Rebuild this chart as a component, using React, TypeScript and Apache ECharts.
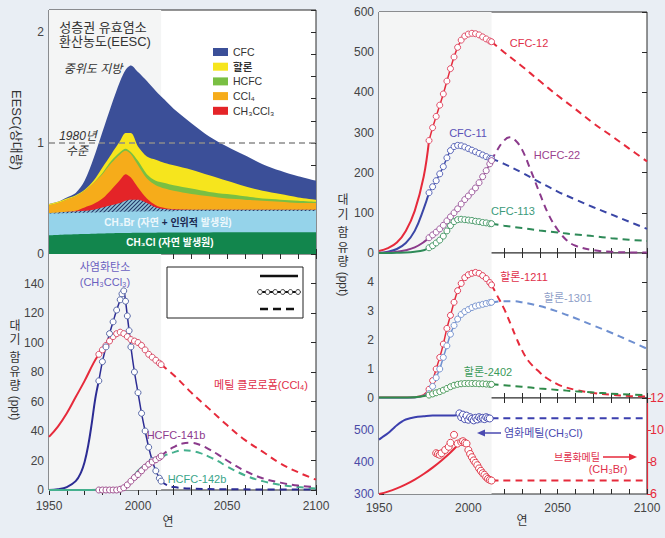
import { useEffect, useRef } from "react";
import * as echarts from "echarts";

type P = [number, number];

// ---------------- EESC panel (cumulative tops of each layer) ----------------
const EESC_YEARS = [1950, 1955, 1960, 1965, 1970, 1975, 1980, 1985, 1990, 1993, 1996, 2000, 2005, 2010, 2015, 2020, 2030, 2040, 2050, 2060, 2070, 2080, 2090, 2100];
const EESC_CFC = [0.45, 0.47, 0.51, 0.55, 0.66, 0.86, 1.10, 1.34, 1.56, 1.66, 1.70, 1.64, 1.56, 1.47, 1.39, 1.31, 1.18, 1.06, 0.97, 0.89, 0.81, 0.75, 0.70, 0.66];
const EESC_HALON = [0.45, 0.47, 0.50, 0.53, 0.58, 0.66, 0.78, 0.90, 1.02, 1.09, 1.09, 0.97, 0.88, 0.85, 0.82, 0.80, 0.76, 0.71, 0.66, 0.61, 0.57, 0.54, 0.51, 0.49];
const EESC_HCFC = [0.44, 0.46, 0.49, 0.52, 0.57, 0.64, 0.73, 0.84, 0.92, 0.95, 0.92, 0.84, 0.72, 0.66, 0.64, 0.62, 0.59, 0.56, 0.54, 0.52, 0.50, 0.49, 0.48, 0.47];
const EESC_CCL4 = [0.44, 0.46, 0.49, 0.52, 0.57, 0.64, 0.72, 0.82, 0.90, 0.93, 0.90, 0.80, 0.68, 0.62, 0.59, 0.57, 0.54, 0.52, 0.50, 0.49, 0.48, 0.47, 0.46, 0.46];
const EESC_CH3CCL3 = [0.37, 0.37, 0.38, 0.39, 0.42, 0.45, 0.50, 0.58, 0.67, 0.72, 0.69, 0.60, 0.50, 0.44, 0.415, 0.405, 0.40, 0.40, 0.40, 0.40, 0.40, 0.40, 0.40, 0.40];
const EESC_CH3BR_ANTH = [0.37, 0.375, 0.38, 0.385, 0.39, 0.40, 0.42, 0.44, 0.46, 0.48, 0.49, 0.49, 0.46, 0.42, 0.405, 0.40, 0.40, 0.40, 0.40, 0.40, 0.40, 0.40, 0.40, 0.40];
const EESC_CH3BR = [0.365, 0.366, 0.368, 0.37, 0.372, 0.374, 0.376, 0.378, 0.38, 0.381, 0.382, 0.383, 0.384, 0.385, 0.386, 0.386, 0.387, 0.387, 0.388, 0.388, 0.388, 0.388, 0.388, 0.388];
const EESC_CH3CL = [0.17, 0.172, 0.175, 0.178, 0.18, 0.183, 0.185, 0.187, 0.189, 0.19, 0.19, 0.191, 0.192, 0.192, 0.193, 0.193, 0.194, 0.194, 0.195, 0.195, 0.195, 0.195, 0.195, 0.195];
const EESC_1980_LEVEL = 1;
const EESC_LEGEND = ["CFC", "할론", "HCFC", "CCl₄", "CH₃CCl₃"];

// ---------------- bottom-left panel ----------------
const CCL4_SOLID: P[] = [[1950, 36], [1955, 43], [1960, 52], [1965, 63], [1970, 74], [1975, 86], [1978, 92]];
const CCL4_OBS: P[] = [[1978, 92], [1980, 95], [1982, 98], [1984, 101], [1986, 104], [1988, 106], [1990, 107], [1992, 106], [1994, 104], [1996, 102], [1998, 101], [2000, 100], [2002, 98], [2004, 95], [2006, 92], [2008, 90], [2010, 88], [2012, 86], [2013, 85]];
const CCL4_PROJ: P[] = [[2013, 85], [2020, 78], [2030, 66], [2040, 55], [2050, 44], [2060, 34], [2070, 26], [2080, 18], [2090, 12], [2100, 7]];
const MCF_SOLID: P[] = [[1950, 0], [1955, 0.5], [1960, 2], [1965, 6], [1968, 12], [1970, 19], [1972, 30], [1974, 45], [1976, 62], [1978, 74]];
const MCF_OBS: P[] = [[1978, 74], [1980, 87], [1982, 97], [1984, 106], [1986, 114], [1988, 122], [1990, 129], [1991, 133], [1992, 135], [1993, 128], [1994, 118], [1995, 108], [1996, 97], [1998, 80], [2000, 66], [2002, 52], [2004, 40], [2006, 29], [2008, 20], [2010, 13], [2012, 8], [2013, 6]];
const MCF_PROJ: P[] = [[2013, 6], [2016, 3.5], [2020, 2], [2030, 1], [2050, 0.5], [2100, 0.3]];
const HCFC141B_OBS: P[] = [[1978, 0], [1980, 0], [1982, 0], [1984, 0], [1986, 0], [1988, 0], [1990, 0.5], [1992, 1.5], [1994, 3.5], [1996, 6], [1998, 8.5], [2000, 10.5], [2002, 13], [2004, 15.5], [2006, 17.5], [2008, 19], [2010, 20.5], [2012, 22], [2013, 23]];
const HCFC141B_PROJ: P[] = [[2013, 23], [2016, 26], [2020, 29], [2025, 31.5], [2030, 32], [2035, 30.5], [2040, 27.5], [2045, 24], [2050, 20], [2060, 13], [2070, 8], [2080, 5], [2090, 3], [2100, 2]];
const HCFC142B_SOLID: P[] = [[1950, 0], [1960, 0], [1970, 0], [1980, 0.2], [1988, 0.5], [1990, 1], [1992, 2.5], [1994, 4.5], [1996, 7], [1998, 10], [2000, 13], [2004, 17], [2008, 20], [2013, 22]];
const HCFC142B_PROJ: P[] = [[2013, 22], [2016, 24], [2020, 25.5], [2025, 27], [2030, 26.5], [2035, 25], [2040, 22.5], [2045, 19.5], [2050, 16], [2060, 10], [2070, 6], [2080, 3.5], [2090, 2], [2100, 1]];

// ---------------- right-top panel ----------------
const CFC12_SOLID: P[] = [[1950, 5], [1955, 12], [1960, 26], [1965, 55], [1970, 105], [1975, 190], [1978, 280]];
const CFC12_OBS: P[] = [[1978, 280], [1980, 312], [1982, 340], [1984, 368], [1986, 396], [1988, 428], [1990, 459], [1992, 488], [1994, 512], [1996, 530], [1998, 540], [2000, 545], [2002, 547], [2004, 546], [2006, 543], [2008, 538], [2010, 533], [2012, 528], [2013, 526]];
const CFC12_PROJ: P[] = [[2013, 526], [2020, 500], [2030, 465], [2040, 428], [2050, 392], [2060, 358], [2070, 323], [2080, 292], [2090, 260], [2100, 228]];
const CFC11_SOLID: P[] = [[1950, 0], [1955, 3], [1960, 10], [1965, 25], [1970, 55], [1975, 110], [1978, 150]];
const CFC11_OBS: P[] = [[1978, 150], [1980, 165], [1982, 180], [1984, 197], [1986, 215], [1988, 237], [1990, 255], [1992, 265], [1994, 268], [1996, 267], [1998, 264], [2000, 260], [2002, 256], [2004, 252], [2006, 248], [2008, 244], [2010, 240], [2012, 236], [2013, 235]];
const CFC11_PROJ: P[] = [[2013, 235], [2020, 222], [2030, 200], [2040, 176], [2050, 153], [2060, 133], [2070, 114], [2080, 96], [2090, 78], [2100, 60]];
const HCFC22_SOLID: P[] = [[1950, 0], [1955, 1], [1960, 3], [1965, 7], [1970, 14], [1975, 27], [1978, 38]];
const HCFC22_OBS: P[] = [[1978, 38], [1980, 45], [1982, 52], [1984, 60], [1986, 69], [1988, 80], [1990, 90], [1992, 100], [1994, 110], [1996, 122], [1998, 133], [2000, 142], [2002, 152], [2004, 162], [2006, 175], [2008, 190], [2010, 205], [2012, 222], [2013, 230]];
const HCFC22_PROJ: P[] = [[2013, 230], [2016, 255], [2020, 280], [2023, 288], [2026, 282], [2030, 258], [2035, 205], [2040, 148], [2045, 95], [2050, 58], [2055, 32], [2060, 18], [2070, 7], [2080, 3], [2090, 1.5], [2100, 1]];
const CFC113_SOLID: P[] = [[1950, 0], [1960, 0.5], [1965, 1], [1970, 3], [1975, 7], [1978, 13]];
const CFC113_OBS: P[] = [[1978, 13], [1980, 18], [1982, 25], [1984, 32], [1986, 42], [1988, 55], [1990, 68], [1992, 78], [1994, 83], [1996, 84], [1998, 83], [2000, 82], [2002, 81], [2004, 79], [2006, 78], [2008, 76], [2010, 75], [2012, 73], [2013, 73]];
const CFC113_PROJ: P[] = [[2013, 73], [2020, 68], [2030, 62], [2040, 56], [2050, 51], [2060, 46], [2070, 42], [2080, 37], [2090, 33], [2100, 30]];

// ---------------- right-middle panel (halons) ----------------
const H1211_SOLID: P[] = [[1950, 0.02], [1960, 0.02], [1970, 0.03], [1975, 0.1], [1978, 0.3]];
const H1211_OBS: P[] = [[1978, 0.3], [1980, 0.6], [1982, 1.0], [1984, 1.4], [1986, 1.86], [1988, 2.4], [1990, 2.85], [1992, 3.3], [1994, 3.7], [1996, 3.95], [1998, 4.15], [2000, 4.25], [2002, 4.3], [2004, 4.33], [2006, 4.3], [2008, 4.22], [2010, 4.12], [2012, 3.98], [2013, 3.9]];
const H1211_PROJ: P[] = [[2013, 3.9], [2016, 3.55], [2020, 3.08], [2024, 2.5], [2027, 2.05], [2030, 1.65], [2034, 1.25], [2040, 0.88], [2044, 0.68], [2050, 0.47], [2055, 0.36], [2060, 0.28], [2070, 0.17], [2080, 0.11], [2090, 0.07], [2100, 0.05]];
const H1301_SOLID: P[] = [[1950, 0.01], [1970, 0.02], [1978, 0.15]];
const H1301_OBS: P[] = [[1978, 0.15], [1980, 0.4], [1982, 0.7], [1984, 1.0], [1986, 1.4], [1988, 1.8], [1990, 2.2], [1992, 2.5], [1994, 2.72], [1996, 2.88], [1998, 2.98], [2000, 3.05], [2002, 3.12], [2004, 3.17], [2006, 3.2], [2008, 3.23], [2010, 3.26], [2012, 3.29], [2013, 3.3]];
const H1301_PROJ: P[] = [[2013, 3.3], [2020, 3.34], [2025, 3.34], [2030, 3.3], [2040, 3.17], [2050, 2.98], [2060, 2.75], [2070, 2.5], [2080, 2.25], [2090, 1.98], [2100, 1.7]];
const H2402_SOLID: P[] = [[1950, 0.02], [1970, 0.03], [1978, 0.1]];
const H2402_OBS: P[] = [[1978, 0.1], [1980, 0.14], [1982, 0.18], [1984, 0.22], [1986, 0.27], [1988, 0.33], [1990, 0.39], [1992, 0.44], [1994, 0.47], [1996, 0.49], [1998, 0.5], [2000, 0.5], [2002, 0.5], [2004, 0.5], [2006, 0.49], [2008, 0.49], [2010, 0.48], [2012, 0.47], [2013, 0.47]];
const H2402_PROJ: P[] = [[2013, 0.47], [2020, 0.44], [2030, 0.39], [2040, 0.33], [2050, 0.28], [2060, 0.23], [2070, 0.19], [2080, 0.15], [2090, 0.12], [2100, 0.1]];

// ---------------- right-bottom panel ----------------
const CH3CL_SOLID: P[] = [[1950, 470], [1952, 478], [1955, 490], [1958, 505], [1960, 515], [1963, 527], [1965, 533], [1970, 540], [1975, 543], [1980, 545], [1990, 545], [1994, 546]];
const CH3CL_OBS: P[] = [[1995, 552], [1996, 540], [1997, 548], [1998, 534], [1999, 545], [2000, 532], [2001, 540], [2002, 535], [2003, 530], [2004, 538], [2005, 533], [2006, 540], [2007, 536], [2008, 538], [2009, 534], [2010, 540], [2011, 537], [2012, 536]];
const CH3CL_PROJ: P[] = [[2013, 537], [2098, 537]];
const CH3BR_SOLID: P[] = [[1950, 6.0], [1955, 6.15], [1960, 6.35], [1965, 6.6], [1970, 6.9], [1975, 7.25], [1980, 7.65], [1985, 8.1], [1990, 8.6], [1994, 9.05]];
const CH3BR_OBS: P[] = [[1982, 8.55], [1983, 8.5], [1984, 8.45], [1985, 8.55], [1987, 8.75], [1989, 8.95], [1990, 9.2], [1992, 9.7], [1994, 9.15], [1996, 9.25], [1997, 9.3], [1998, 9.2], [1999, 9.15], [2000, 8.75], [2001, 8.5], [2002, 8.3], [2003, 8.1], [2004, 7.95], [2005, 7.8], [2006, 7.6], [2007, 7.45], [2008, 7.3], [2009, 7.2], [2010, 7.05], [2011, 6.95], [2012, 6.88], [2013, 6.84]];
const CH3BR_PROJ: P[] = [[2013, 6.84], [2098, 6.84]];

const HIST_END = 2013;
const X_MIN = 1950;
const X_MAX = 2100;

const FONT = "'Liberation Sans', 'Noto Sans CJK KR', 'DejaVu Sans', sans-serif";
const RED = "#e62a3b";
const NAVY = "#3a46a6";

function gas(color: string, solid: P[] | null, obs: P[] | null, proj: P[] | null, xi: number, yi: number, opt: { circle?: string; connect?: boolean; size?: number } = {}) {
  const out: any[] = [];
  const common = { type: "line", xAxisIndex: xi, yAxisIndex: yi, silent: true, animation: false, emphasis: { disabled: true } };
  if (solid) out.push({ ...common, data: solid, smooth: 0.4, showSymbol: false, lineStyle: { color, width: 2 }, z: 3 });
  if (proj) out.push({ ...common, data: proj, smooth: 0.4, showSymbol: false, lineStyle: { color, width: 2, type: [7, 5] }, z: 3 });
  if (obs) {
    const connect = opt.connect !== false;
    out.push({
      ...common, data: obs, smooth: 0.3, symbol: "circle", symbolSize: opt.size || 6, showSymbol: true, showAllSymbol: true,
      itemStyle: { color: "#fff", borderColor: opt.circle || color, borderWidth: 1 },
      lineStyle: { color, width: connect ? 1.5 : 0, opacity: connect ? 1 : 0 }, z: 4,
    });
  }
  return out;
}

function buildOption(hatch: any) {
  const grids = [
    { left: 49, top: 10, width: 267, height: 244 },
    { left: 49, top: 254, width: 267, height: 236 },
    { left: 379, top: 12, width: 268, height: 241 },
    { left: 379, top: 253, width: 268, height: 145 },
    { left: 379, top: 398, width: 268, height: 96 },
  ].map((g) => ({ ...g, show: true, backgroundColor: "#fff", borderColor: "#2a2a2a", borderWidth: 1, outerBoundsMode: "none", containLabel: false }));

  const tick = { inside: true, length: 5, lineStyle: { color: "#2a2a2a", width: 1 } };
  const xAxis: any[] = [];
  grids.forEach((_, g) => {
    const showLab = g === 1 || g === 4;
    xAxis.push({
      gridIndex: g, type: "value", min: X_MIN, max: X_MAX, interval: 10, position: "bottom",
      axisLine: { show: false }, axisTick: tick, splitLine: { show: false },
      axisLabel: { show: showLab, formatter: (v: number) => (v % 50 === 0 ? String(v) : ""), color: "#444", fontSize: 12, fontFamily: FONT, margin: g === 1 ? 10 : 8, showMinLabel: true, showMaxLabel: true },
    });
    xAxis.push({
      gridIndex: g, type: "value", min: X_MIN, max: X_MAX, interval: 10, position: "top",
      axisLine: { show: false }, axisTick: tick, splitLine: { show: false }, axisLabel: { show: false },
    });
  });

  const yCfg = [
    { min: 0, max: 2.2, interval: 0.2, fmt: (v: number) => (Math.abs(v - Math.round(v)) < 1e-6 ? String(Math.round(v)) : "") },
    { min: 0, max: 160, interval: 20, fmt: (v: number) => (v >= 160 ? "" : String(v)) },
    { min: 0, max: 600, interval: 100, fmt: (v: number) => String(v) },
    { min: 0, max: 5, interval: 1, fmt: (v: number) => (v >= 5 ? "" : String(v)) },
    { min: 300, max: 600, interval: 100, fmt: (v: number) => (v >= 600 ? "" : String(v)) },
  ];
  const yAxis: any[] = [];
  yCfg.forEach((c, g) => {
    const labColor = g === 4 ? "#4a4aa6" : "#444";
    yAxis.push({
      gridIndex: g, type: "value", min: c.min, max: c.max, interval: c.interval, position: "left",
      axisLine: { show: g === 4, lineStyle: { color: "#4040a0" } }, axisTick: tick, splitLine: { show: false },
      axisLabel: { formatter: c.fmt, color: labColor, fontSize: 12, fontFamily: FONT, margin: 5, showMinLabel: true, showMaxLabel: true },
    });
    if (g === 4) {
      yAxis.push({
        gridIndex: g, type: "value", min: 6, max: 12, interval: 2, position: "right",
        axisLine: { show: true, lineStyle: { color: RED, width: 1.2 } }, axisTick: { inside: false, length: 4, lineStyle: { color: RED } }, splitLine: { show: false },
        axisLabel: { color: RED, fontSize: 12.5, fontFamily: FONT, margin: 3, showMinLabel: true, showMaxLabel: true },
      });
    } else {
      yAxis.push({
        gridIndex: g, type: "value", min: c.min, max: c.max, interval: c.interval, position: "right",
        axisLine: { show: false }, axisTick: tick, splitLine: { show: false }, axisLabel: { show: false },
      });
    }
  });

  const series: any[] = [];
  // historical shading
  grids.forEach((_, g) => {
    series.push({
      type: "line", xAxisIndex: 2 * g, yAxisIndex: 2 * g, data: [], z: 1, silent: true,
      markArea: { silent: true, itemStyle: { color: "#f4f5f5" }, data: [[{ xAxis: X_MIN }, { xAxis: HIST_END }]] },
    });
  });

  // EESC areas
  const layers: [number[], any][] = [
    [EESC_CFC, "#3b4f98"],
    [EESC_HALON, "#f6e51d"],
    [EESC_HCFC, "#79bf43"],
    [EESC_CCL4, "#f6ac1a"],
    [EESC_CH3CCL3, "#e42428"],
    [EESC_CH3BR_ANTH, hatch],
    [EESC_CH3BR, "#95d3ea"],
    [EESC_CH3CL, "#12864d"],
  ];
  layers.forEach(([arr, color]) => {
    series.push({
      type: "line", xAxisIndex: 0, yAxisIndex: 0, silent: true, smooth: 0.3, showSymbol: false,
      data: EESC_YEARS.map((y, i) => [y, arr[i]]), lineStyle: { width: 0 }, areaStyle: { color, opacity: 1 }, z: 2,
    });
  });
  series.push({
    type: "line", xAxisIndex: 0, yAxisIndex: 0, silent: true, showSymbol: false, z: 6,
    data: [[X_MIN, EESC_1980_LEVEL], [X_MAX, EESC_1980_LEVEL]], lineStyle: { color: "#8c8c8c", width: 1.5, type: [6, 4] },
  });

  // bottom-left
  series.push(...gas(RED, CCL4_SOLID, CCL4_OBS, CCL4_PROJ, 2, 2, { circle: "#d9506a" }));
  series.push(...gas("#2c2c94", MCF_SOLID, MCF_OBS, MCF_PROJ, 2, 2, { circle: "#5a6aa8" }));
  series.push(...gas("#45b08e", HCFC142B_SOLID, null, HCFC142B_PROJ, 2, 2));
  series.push(...gas("#8b3a8b", null, HCFC141B_OBS, HCFC141B_PROJ, 2, 2, { circle: "#a0508f" }));

  // right-top
  series.push(...gas(RED, CFC12_SOLID, CFC12_OBS, CFC12_PROJ, 4, 4, { circle: "#e0506a" }));
  series.push(...gas(NAVY, CFC11_SOLID, CFC11_OBS, CFC11_PROJ, 4, 4, { circle: "#5a66b8" }));
  series.push(...gas("#8b3a8b", HCFC22_SOLID, HCFC22_OBS, HCFC22_PROJ, 4, 4, { circle: "#a060a0" }));
  series.push(...gas("#2e8a58", CFC113_SOLID, CFC113_OBS, CFC113_PROJ, 4, 4, { circle: "#4a9a6a" }));

  // right-middle
  series.push(...gas(RED, H1211_SOLID, H1211_OBS, H1211_PROJ, 6, 6, { circle: "#e0405a" }));
  series.push(...gas("#6e8fd0", H1301_SOLID, H1301_OBS, H1301_PROJ, 6, 6, { circle: "#7a96d0" }));
  series.push(...gas("#2f8a4a", H2402_SOLID, H2402_OBS, H2402_PROJ, 6, 6, { circle: "#4a9a5a" }));

  // right-bottom
  series.push(...gas("#3b3fae", CH3CL_SOLID, CH3CL_OBS, CH3CL_PROJ, 8, 8, { connect: false, size: 7, circle: "#4a50b0" }));
  series.push(...gas(RED, CH3BR_SOLID, CH3BR_OBS, CH3BR_PROJ, 8, 9, { connect: false, size: 7, circle: "#e04050" }));

  const txt = (text: string, x: number, y: number, fill: string, fontSize = 11, extra: any = {}) => ({
    type: "text", x, y, z: 100, silent: true,
    style: { text, fill, fontSize, fontFamily: FONT, align: "center", verticalAlign: "middle", ...extra },
  });

  const graphic: any[] = [];
  // top-left titles
  graphic.push(txt("성층권 유효염소", 103, 27, "#333", 13));
  graphic.push(txt("환산농도(EESC)", 105, 41, "#333", 13));
  graphic.push(txt("중위도 지방", 93, 69, "#333", 12, { fontStyle: "italic" }));
  graphic.push(txt("1980년", 78, 136, "#333", 12, { fontStyle: "italic" }));
  graphic.push(txt("수준", 77, 151, "#333", 12, { fontStyle: "italic" }));
  graphic.push({ type: "text", x: 16, y: 130, rotation: -Math.PI / 2, z: 100, silent: true, style: { text: "EESC(상대량)", fill: "#333", fontSize: 13, fontFamily: FONT, align: "center", verticalAlign: "middle" } });
  // EESC legend
  const legColors = ["#3b4f98", "#f6e51d", "#79bf43", "#f6ac1a", "#e42428"];
  EESC_LEGEND.forEach((name, i) => {
    const y = 52 + i * 14.7;
    graphic.push({ type: "rect", z: 100, silent: true, shape: { x: 213, y: y - 4, width: 15, height: 8 }, style: { fill: legColors[i] } });
    graphic.push(txt(name, 233, y, "#333", 10.5, { align: "left", fontWeight: i === 1 ? "bold" : "normal" }));
  });
  // inner labels
  graphic.push({
    type: "text", x: 168, y: 222, z: 100, silent: true,
    style: {
      text: "{w|CH₃Br (자연 }{d|+ 인위적 }{w|발생원)}", align: "center", verticalAlign: "middle", fontFamily: FONT,
      rich: { w: { fill: "#eef8fc", color: "#eef8fc", fontSize: 10, fontWeight: "bold", fontFamily: FONT }, d: { fill: "#1b2850", color: "#1b2850", fontSize: 10, fontWeight: "bold", fontFamily: FONT } },
    },
  });
  graphic.push(txt("CH₃Cl (자연 발생원)", 170, 242, "#ffffff", 10, { fontWeight: "bold" }));

  // bottom-left labels
  graphic.push(txt("사염화탄소", 105, 267, "#6a5fc0", 11));
  graphic.push(txt("(CH₃CCl₃)", 105, 282, "#6a5fc0", 11));
  graphic.push(txt("메틸 클로로폼(CCl₄)", 261, 385, "#e0304a", 11));
  graphic.push(txt("HCFC-141b", 176, 435, "#8e3a8e", 11));
  graphic.push(txt("HCFC-142b", 197, 479, "#3aa58a", 11));
  // bottom-left legend box
  graphic.push({ type: "rect", z: 90, silent: true, shape: { x: 167, y: 267, width: 136, height: 51 }, style: { fill: "#fff", stroke: "#222", lineWidth: 1 } });
  graphic.push({ type: "line", z: 91, silent: true, shape: { x1: 260, y1: 276, x2: 298, y2: 276 }, style: { stroke: "#111", lineWidth: 2.5 } });
  graphic.push({ type: "line", z: 91, silent: true, shape: { x1: 260, y1: 292, x2: 298, y2: 292 }, style: { stroke: "#111", lineWidth: 2 } });
  for (let i = 0; i < 6; i++) {
    graphic.push({ type: "circle", z: 92, silent: true, shape: { cx: 260 + i * 7.6, cy: 292, r: 2.4 }, style: { fill: "#fff", stroke: "#333", lineWidth: 1 } });
  }
  graphic.push({ type: "line", z: 91, silent: true, shape: { x1: 260, y1: 309, x2: 298, y2: 309 }, style: { stroke: "#111", lineWidth: 2.5, lineDash: [8, 5] } });
  // y names
  const vName = (x: number, ys: number[], chars: string[], pptY: number) => {
    chars.forEach((c, i) => graphic.push(txt(c, x, ys[i], "#333", 12)));
    graphic.push({ type: "text", x, y: pptY, rotation: -Math.PI / 2, z: 100, silent: true, style: { text: "(ppt)", fill: "#333", fontSize: 12, fontFamily: FONT, align: "center", verticalAlign: "middle" } });
  };
  vName(15, [326, 340, 358, 372, 386], ["대", "기", "함", "유", "량"], 408);
  vName(343, [200, 215, 233, 248, 262], ["대", "기", "함", "유", "량"], 284);
  graphic.push(txt("연", 168, 522, "#333", 12));
  graphic.push(txt("연", 522, 521, "#333", 12));

  // right-top labels
  graphic.push(txt("CFC-12", 529, 43, "#e0304a", 11));
  graphic.push(txt("CFC-11", 468, 133, "#5b52b8", 11));
  graphic.push(txt("HCFC-22", 557, 155, "#9b3f8e", 11));
  graphic.push(txt("CFC-113", 513, 211, "#3b9a7a", 11));
  // right-middle labels
  graphic.push(txt("할론-1211", 524, 277, "#e0304a", 11));
  graphic.push(txt("할론-1301", 568, 298, "#8fa0c8", 11));
  graphic.push(txt("할론-2402", 488, 372, "#3b9a5a", 11));
  // right-bottom labels
  graphic.push({ type: "line", z: 100, silent: true, shape: { x1: 483, y1: 433, x2: 501, y2: 433 }, style: { stroke: "#4a4ab0", lineWidth: 1.5 } });
  graphic.push({ type: "polygon", z: 100, silent: true, shape: { points: [[477, 433], [485, 429.5], [485, 436.5]] }, style: { fill: "#4a4ab0" } });
  graphic.push(txt("염화메틸(CH₃Cl)", 504, 433, "#4a4ab0", 11, { align: "left" }));
  graphic.push(txt("브롬화메틸", 577, 457, "#e0304a", 10));
  graphic.push({ type: "line", z: 100, silent: true, shape: { x1: 603, y1: 457, x2: 630, y2: 457 }, style: { stroke: RED, lineWidth: 1.5 } });
  graphic.push({ type: "polygon", z: 100, silent: true, shape: { points: [[637, 457], [629, 453.5], [629, 460.5]] }, style: { fill: RED } });
  graphic.push(txt("(CH₃Br)", 608, 469, "#e0304a", 11));

  return {
    animation: false,
    backgroundColor: "#e9eef4",
    textStyle: { fontFamily: FONT },
    grid: grids,
    xAxis,
    yAxis,
    series,
    graphic,
  };
}

export default function App() {
  const ref = useRef<HTMLDivElement>(null);
  useEffect(() => {
    document.body.style.margin = "0";
    const cv = document.createElement("canvas");
    cv.width = 4;
    cv.height = 4;
    const ctx = cv.getContext("2d");
    let hatch: any = "#5f8aa4";
    if (ctx) {
      ctx.fillStyle = "#8fc3d8";
      ctx.fillRect(0, 0, 4, 4);
      ctx.strokeStyle = "#24386a";
      ctx.lineWidth = 1.1;
      ctx.beginPath();
      ctx.moveTo(0, 4);
      ctx.lineTo(4, 0);
      ctx.moveTo(-1, 1);
      ctx.lineTo(1, -1);
      ctx.moveTo(3, 5);
      ctx.lineTo(5, 3);
      ctx.stroke();
      hatch = { image: cv, repeat: "repeat" };
    }
    const chart = echarts.init(ref.current!, null, { renderer: "svg" });
    chart.setOption(buildOption(hatch) as any);
    return () => chart.dispose();
  }, []);
  return <div ref={ref} style={{ width: 665, height: 538 }} />;
}
